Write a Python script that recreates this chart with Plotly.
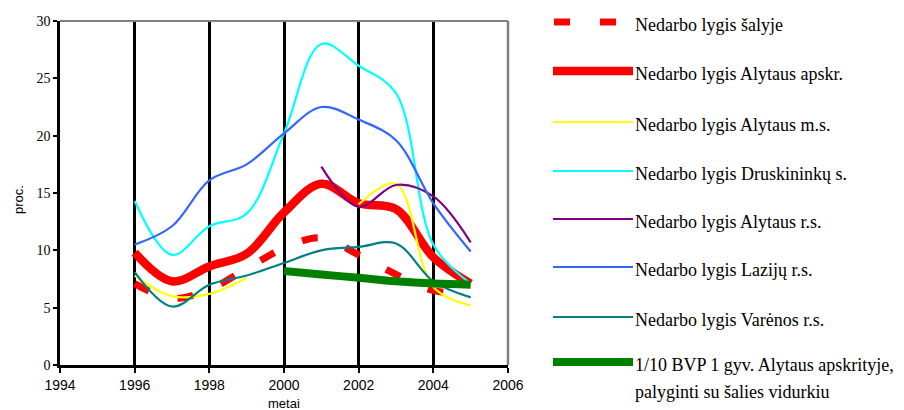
import plotly.graph_objects as go

W, H = 904, 410

years = [1996, 1997, 1998, 1999, 2000, 2001, 2002, 2003, 2004, 2005]

salyje = [7.1, 5.8, 6.6, 8.4, 10.2, 11.1, 9.6, 7.9, 6.5, 6.2]
apskr = [9.8, 7.3, 8.6, 9.7, 13.3, 15.8, 14.1, 13.6, 9.4, 7.1]
alytaus_ms = [7.8, 6.0, 6.2, 7.6, None, None, 14.0, 15.8, 6.8, 5.2]
druskininku = [14.3, 9.6, 12.1, 13.2, 20.2, 28.0, 26.1, 23.7, 10.5, 7.1]
alytaus_rs = [None, None, None, None, None, 17.3, 13.8, 15.7, 14.7, 10.7]
laziju = [10.5, 12.1, 16.1, 17.5, 20.2, 22.5, 21.4, 19.6, 14.1, 9.9]
varenos = [8.1, 5.1, 7.0, 7.8, 8.9, 10.0, 10.3, 10.6, 7.3, 5.9]
bvp = [None, None, None, None, 8.2, 7.9, 7.6, 7.3, 7.1, 7.0]

names = [
    "Nedarbo lygis šalyje",
    "Nedarbo lygis Alytaus apskr.",
    "Nedarbo lygis Alytaus m.s.",
    "Nedarbo lygis Druskininkų s.",
    "Nedarbo lygis Alytaus r.s.",
    "Nedarbo lygis Lazijų r.s.",
    "Nedarbo lygis Varėnos r.s.",
    "1/10 BVP 1 gyv. Alytaus apskrityje,",
]
name_extra = "palyginti su šalies vidurkiu"

x_ticks = [1994, 1996, 1998, 2000, 2002, 2004, 2006]
y_ticks = [0, 5, 10, 15, 20, 25, 30]

series = [salyje, apskr, alytaus_ms, druskininku, alytaus_rs, laziju, varenos, bvp]
colors = ["#FF0000", "#FF0000", "#FFFF00", "#00FFFF", "#800080", "#3366FF", "#008080", "#008000"]
widths = [7, 8.5, 2.2, 2.2, 2.2, 2.2, 2.2, 8]
dashes = ["16px,30px", "solid", "solid", "solid", "solid", "solid", "solid", "solid"]

fig = go.Figure()
for vals, c, w, d, n in zip(series, colors, widths, dashes, names):
    fig.add_trace(go.Scatter(
        x=years, y=vals, mode="lines", name=n,
        line=dict(color=c, width=w, dash=d, shape="spline", smoothing=1.0),
        connectgaps=False, showlegend=False, hoverinfo="skip",
    ))

# plot area in pixels
PL, PR, PT, PB = 60, 508, 21, 365

def px(xp):
    return xp / W

def py(yp):
    return (H - yp) / H

shapes = []
# gray top and right border
shapes.append(dict(type="line", xref="paper", yref="paper", x0=px(PL), x1=px(PR), y0=py(PT), y1=py(PT),
                   line=dict(color="#808080", width=2), layer="above"))
shapes.append(dict(type="line", xref="paper", yref="paper", x0=px(PR), x1=px(PR), y0=py(PT), y1=py(PB),
                   line=dict(color="#808080", width=2.5), layer="above"))

# custom legend
leg_rows = [22, 71, 122, 171, 219, 267, 317, 362]
serif = "Liberation Serif, Times New Roman, serif"
annotations = []
for i, (n, c, w, d) in enumerate(zip(names, colors, widths, dashes)):
    yy = leg_rows[i]
    if d != "solid":
        shapes.append(dict(type="line", xref="paper", yref="paper", x0=px(554), x1=px(570), y0=py(yy), y1=py(yy),
                           line=dict(color=c, width=w)))
        shapes.append(dict(type="line", xref="paper", yref="paper", x0=px(600), x1=px(616), y0=py(yy), y1=py(yy),
                           line=dict(color=c, width=w)))
    else:
        shapes.append(dict(type="line", xref="paper", yref="paper", x0=px(553), x1=px(633), y0=py(yy), y1=py(yy),
                           line=dict(color=c, width=w)))
    ty = yy + 3
    annotations.append(dict(xref="paper", yref="paper", x=px(633), y=py(ty), text=n, showarrow=False,
                            xanchor="left", yanchor="middle",
                            font=dict(family=serif, size=18, color="black")))
annotations.append(dict(xref="paper", yref="paper", x=px(633), y=py(392), text=name_extra, showarrow=False,
                        xanchor="left", yanchor="middle",
                        font=dict(family=serif, size=18, color="black")))
# axis titles
annotations.append(dict(xref="paper", yref="paper", x=px(18), y=py(200), text="proc.", showarrow=False,
                        textangle=-90, xanchor="center", yanchor="middle",
                        font=dict(family="Liberation Sans", size=13, color="black")))
annotations.append(dict(xref="paper", yref="paper", x=px(284), y=py(403), text="metai", showarrow=False,
                        xanchor="center", yanchor="middle",
                        font=dict(family="Liberation Sans", size=13, color="black")))

fig.update_layout(
    width=W, height=H, autosize=False,
    margin=dict(l=0, r=0, t=0, b=0, pad=0, autoexpand=False),
    paper_bgcolor="white", plot_bgcolor="white",
    shapes=shapes, annotations=annotations,
    xaxis=dict(
        domain=[px(PL), px(PR)], range=[1994, 2006],
        tickmode="array", tickvals=x_ticks, ticktext=[str(v) for v in x_ticks],
        showgrid=True, gridcolor="black", gridwidth=2.5,
        showline=True, linecolor="black", linewidth=2.5,
        ticks="outside", ticklen=5, tickwidth=2, tickcolor="black",
        tickfont=dict(family="Liberation Sans", size=14, color="black"),
        zeroline=False, fixedrange=True, automargin=False,
    ),
    yaxis=dict(
        domain=[py(PB), py(PT)], range=[0, 30],
        tickmode="array", tickvals=y_ticks, ticktext=[str(v) for v in y_ticks],
        showgrid=False,
        showline=True, linecolor="black", linewidth=2.5,
        ticks="outside", ticklen=4, tickwidth=2, tickcolor="black",
        tickfont=dict(family=serif, size=14, color="black"),
        zeroline=False, fixedrange=True, automargin=False,
    ),
)

fig.write_html(
    "out.html",
    config={"displayModeBar": False},
    post_script="document.body.style.margin='0px';document.body.style.padding='0px';document.body.style.overflow='hidden';",
)
